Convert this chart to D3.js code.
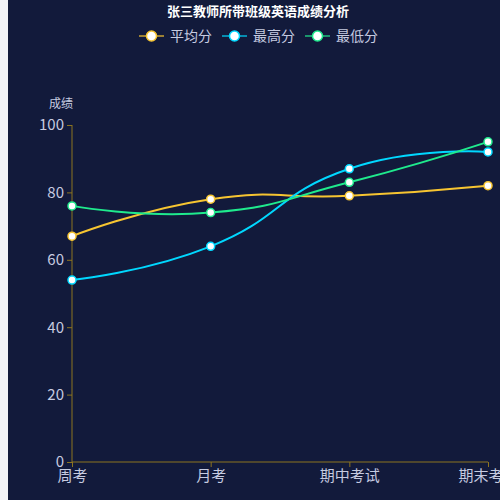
<!DOCTYPE html>
<html>
<head>
<meta charset="utf-8">
<script src="https://cdn.jsdelivr.net/npm/d3@7"></script>
<style>
  html, body { margin: 0; padding: 0; background: #f2f3f7; }
  svg { display: block; }
  text { font-family: "Noto Sans CJK SC", "Noto Sans", sans-serif; }
</style>
</head>
<body>
<svg id="chart" width="500" height="500"></svg>
<script>
// exam names along the bottom
const exams = ["周考", "月考", "期中考试", "期末考试"];
const seriesNames = ["平均分", "最高分", "最低分"];
const avgScores = [67, 78, 79, 82];
const maxScores = [54, 64, 87, 92];
const minScores = [76, 74, 83, 95];
const yTicks = [0, 20, 40, 60, 80, 100];
const colors = ["#f7c531", "#00d8ff", "#1fea8d"];

const svg = d3.select("#chart");
const W = 500, H = 500;

// chart area starts 8px in from the left, the strip is the page behind it
svg.append("rect").attr("x", 8).attr("y", 0).attr("width", W - 8).attr("height", H)
    .attr("fill", "#121a3b");

const plotL = 72, plotR = 488, plotT = 125, plotB = 462;

const x = d3.scalePoint().domain(exams).range([plotL, plotR]);
const y = d3.scaleLinear().domain([0, 100]).range([plotB, plotT]);

// smooth curve the way echarts does it (smooth = 0.5, endpoints keep their own control point)
function smoothCurve(context) {
    let pts;
    return {
        areaStart() {}, areaEnd() {},
        lineStart() { pts = []; },
        point(px, py) { pts.push([+px, +py]); },
        lineEnd() {
            const s = 0.5, n = pts.length;
            if (!n) return;
            context.moveTo(pts[0][0], pts[0][1]);
            let cp0 = pts[0];
            for (let i = 1; i < n; i++) {
                const p = pts[i], prev = pts[i - 1], next = pts[i + 1];
                let cp1 = p, after = p;
                if (next) {
                    const vx = next[0] - prev[0], vy = next[1] - prev[1];
                    const l0 = Math.hypot(p[0] - prev[0], p[1] - prev[1]);
                    const l1 = Math.hypot(next[0] - p[0], next[1] - p[1]);
                    const r = l1 / (l0 + l1);
                    cp1 = [p[0] - vx * s * (1 - r), p[1] - vy * s * (1 - r)];
                    after = [p[0] + vx * s * r, p[1] + vy * s * r];
                }
                context.bezierCurveTo(cp0[0], cp0[1], cp1[0], cp1[1], p[0], p[1]);
                cp0 = after;
            }
        }
    };
}

const axisColor = "#8c7420";
const labelColor = "#c6cbe0";

// y axis
const yAxis = svg.append("g").attr("transform", `translate(${plotL},0)`)
    .call(d3.axisLeft(y).tickValues(yTicks).tickSize(5).tickPadding(3));
yAxis.select(".domain").attr("stroke", axisColor).attr("d", `M0,${plotT}V${plotB}`);
yAxis.selectAll(".tick line").attr("stroke", axisColor);
yAxis.selectAll(".tick text").attr("fill", labelColor).attr("font-size", 15)
    .attr("font-family", "'Noto Sans', sans-serif");

svg.append("text").attr("x", 61).attr("y", 108).attr("text-anchor", "middle")
    .attr("fill", labelColor).attr("font-size", 12).text("成绩");

// x axis
const xAxis = svg.append("g").attr("transform", `translate(0,${plotB})`)
    .call(d3.axisBottom(x).tickSize(5).tickPadding(3));
xAxis.select(".domain").attr("stroke", axisColor).attr("d", `M${plotL},0H${plotR}`);
xAxis.selectAll(".tick line").attr("stroke", axisColor);
xAxis.selectAll(".tick text").attr("fill", labelColor).attr("font-size", 15);

// lines
const line = d3.line().x((d, i) => x(exams[i])).y(d => y(d)).curve(smoothCurve);
const allSeries = [avgScores, maxScores, minScores];

allSeries.forEach((vals, k) => {
    const g = svg.append("g");
    g.append("path").attr("d", line(vals)).attr("fill", "none")
        .attr("stroke", colors[k]).attr("stroke-width", 2);
    g.selectAll("circle").data(vals).join("circle")
        .attr("cx", (d, i) => x(exams[i])).attr("cy", d => y(d)).attr("r", 4)
        .attr("fill", "#fff").attr("stroke", colors[k]).attr("stroke-width", 1.5);
});

// title
svg.append("text").attr("x", 258).attr("y", 16).attr("text-anchor", "middle")
    .attr("fill", "#fff").attr("font-size", 13).attr("font-weight", "bold")
    .text("张三教师所带班级英语成绩分析");

// legend
const legendX = [139, 222, 305];
const legend = svg.append("g");
seriesNames.forEach((name, k) => {
    const lx = legendX[k], ly = 36;
    legend.append("line").attr("x1", lx).attr("x2", lx + 25).attr("y1", ly).attr("y2", ly)
        .attr("stroke", colors[k]).attr("stroke-width", 2).attr("stroke-opacity", 0.6);
    legend.append("circle").attr("cx", lx + 12.5).attr("cy", ly).attr("r", 5)
        .attr("fill", "#fff").attr("stroke", colors[k]).attr("stroke-width", 1.5);
    legend.append("text").attr("x", lx + 31).attr("y", ly + 5)
        .attr("fill", labelColor).attr("font-size", 14).text(name);
});
</script>
</body>
</html>
